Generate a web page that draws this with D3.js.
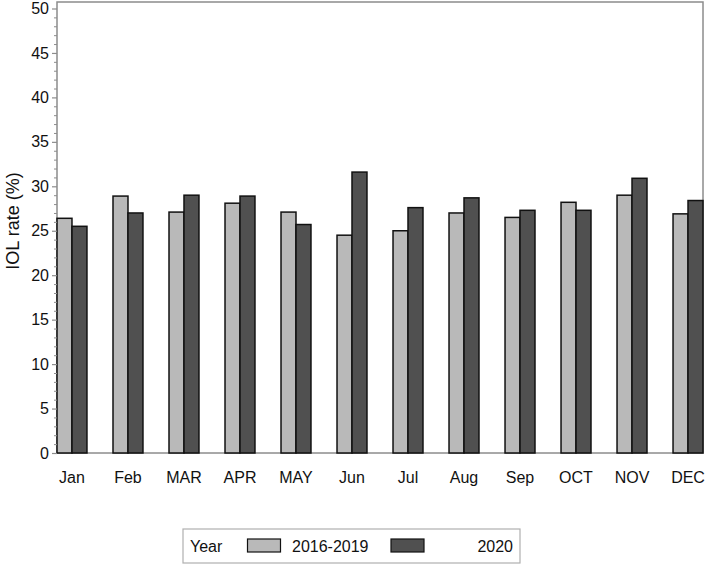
<!DOCTYPE html>
<html>
<head>
<meta charset="utf-8">
<script src="https://cdn.jsdelivr.net/npm/d3@7"></script>
<style>
  body { margin: 0; background: #fff; }
  text { font-family: "Liberation Sans", Arial, sans-serif; fill: #111; }
</style>
</head>
<body>
<div id="chart"></div>
<script>
const months = ["Jan", "Feb", "MAR", "APR", "MAY", "Jun", "Jul", "Aug", "Sep", "OCT", "NOV", "DEC"]
const series = ["2016-2019", "2020"]
const rate2016_2019 = [26.4, 28.9, 27.1, 28.1, 27.1, 24.5, 25.0, 27.0, 26.5, 28.2, 29.0, 26.9]
const rate2020 = [25.5, 27.0, 29.0, 28.9, 25.7, 31.6, 27.6, 28.7, 27.3, 27.3, 30.9, 28.4]
const yTicks = [0, 5, 10, 15, 20, 25, 30, 35, 40, 45, 50]
const colors = ["#b9b9b9", "#505050"]

const width = 709, height = 566
const margin = {left: 57, right: 703, top: 2, bottom: 453}

const svg = d3.select("#chart").append("svg")
  .attr("width", width)
  .attr("height", height)

const x = d3.scaleBand()
  .domain(months)
  .range([margin.left, margin.right])
  .paddingInner(0.465)
  .paddingOuter(0)

const xSub = d3.scaleBand()
  .domain(series)
  .range([0, x.bandwidth()])

const y = d3.scaleLinear()
  .domain([0, 50])
  .range([margin.bottom, 8.5])

// frame
svg.append("rect")
  .attr("x", margin.left).attr("y", margin.top)
  .attr("width", margin.right - margin.left).attr("height", margin.bottom - margin.top)
  .attr("fill", "none")
  .attr("stroke", "#8c8c8c")
  .attr("stroke-width", 1.5)

// bars
const groups = svg.selectAll("g.month")
  .data(months)
  .enter().append("g")
  .attr("class", "month")
  .attr("transform", d => "translate(" + x(d) + ",0)")

groups.selectAll("rect")
  .data((d, i) => [{s: series[0], v: rate2016_2019[i]}, {s: series[1], v: rate2020[i]}])
  .enter().append("rect")
  .attr("x", d => xSub(d.s))
  .attr("y", d => y(d.v))
  .attr("width", xSub.bandwidth())
  .attr("height", d => y(0) - y(d.v))
  .attr("fill", (d, i) => colors[i])
  .attr("stroke", "#111")
  .attr("stroke-width", 1.5)

// y axis (major + minor ticks)
const minor = d3.range(0, 51, 1).filter(v => v % 5 !== 0)
svg.append("g")
  .attr("transform", "translate(" + margin.left + ",0)")
  .call(d3.axisLeft(y).tickValues(minor).tickSize(3).tickFormat(""))
  .call(g => g.select(".domain").remove())
  .call(g => g.selectAll("line").attr("stroke", "#8c8c8c"))

const yAxis = svg.append("g")
  .attr("transform", "translate(" + margin.left + ",0)")
  .call(d3.axisLeft(y).tickValues(yTicks).tickSize(5).tickPadding(3))
yAxis.select(".domain").remove()
yAxis.selectAll("line").attr("stroke", "#8c8c8c").attr("stroke-width", 1.2)
yAxis.selectAll("text").attr("font-size", 16).style("font-family", "Liberation Sans, Arial, sans-serif").attr("fill", "#111")

// x labels
svg.selectAll("text.mlabel")
  .data(months)
  .enter().append("text")
  .attr("class", "mlabel")
  .attr("x", d => x(d) + x.bandwidth() / 2)
  .attr("y", 483)
  .attr("text-anchor", "middle")
  .attr("font-size", 16)
  .text(d => d)

// y title
svg.append("text")
  .attr("transform", "translate(19,221) rotate(-90)")
  .attr("text-anchor", "middle")
  .attr("font-size", 18)
  .text("IOL rate (%)")

// legend
const legend = svg.append("g")
legend.append("rect")
  .attr("x", 183).attr("y", 529)
  .attr("width", 337).attr("height", 34)
  .attr("fill", "none")
  .attr("stroke", "#b0b0b0")
  .attr("stroke-width", 1.2)
legend.append("text")
  .attr("x", 190).attr("y", 552)
  .attr("font-size", 16)
  .text("Year")

const swatchX = [247.5, 391]
series.forEach(function(s, i) {
  legend.append("rect")
    .attr("x", swatchX[i]).attr("y", 539)
    .attr("width", 33).attr("height", 13)
    .attr("fill", colors[i])
    .attr("stroke", "#111")
    .attr("stroke-width", 1.2)
})
legend.append("text")
  .attr("x", 292).attr("y", 552)
  .attr("font-size", 16)
  .text(series[0])
legend.append("text")
  .attr("x", 513).attr("y", 552)
  .attr("text-anchor", "end")
  .attr("font-size", 16)
  .text(series[1])
</script>
</body>
</html>
